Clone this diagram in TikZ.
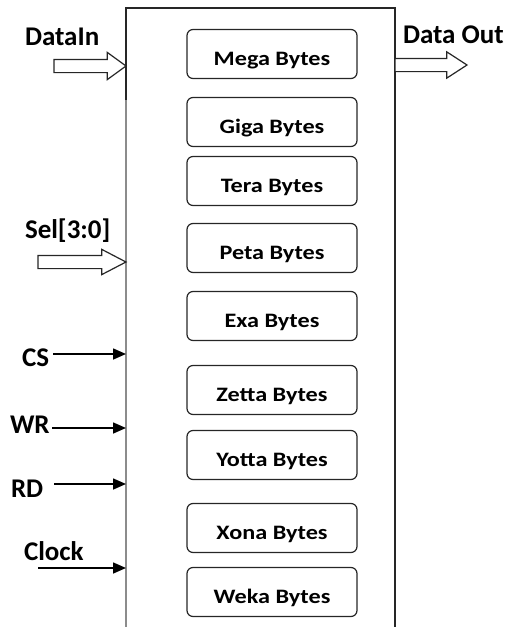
\documentclass[tikz,border=0pt]{standalone}
\usepackage{fontspec}
\setmainfont{Carlito}
\newfontfamily\boxfamily[FakeStretch=1.18]{Carlito}
\newcommand*{\sigfont}{\bfseries\fontsize{27}{31}\selectfont}
\newcommand*{\memfont}{\boxfamily\bfseries\fontsize{20.5}{24}\selectfont}
\definecolor{edge}{gray}{0.15}
\definecolor{sideline}{gray}{0.55}
\usetikzlibrary{arrows.meta}
\usetikzlibrary{shapes.arrows}
\usetikzlibrary{positioning}
\tikzstyle{base}=[x=1pt, y=-1pt, inner sep=0pt, outer sep=0pt]
\tikzstyle{mem}=[draw=edge, line width=1.2pt, rounded corners=6pt, minimum width=170pt, minimum height=49pt, text height=22pt, text depth=0pt, font=\memfont]
\tikzstyle{sig}=[anchor=base west, font=\sigfont]
\tikzstyle{bus}=[draw=edge, fill=white, line width=1.2pt, single arrow, inner xsep=0pt, inner ysep=6pt]
\tikzstyle{wire}=[line width=1.6pt, -{Triangle[length=13pt, width=11pt]}]

\begin{document}
\begin{tikzpicture}[base]
    \path [use as bounding box] (0,0) rectangle (512,627);
    % the memory block, open at the bottom
    \node [draw=edge, line width=1.2pt, minimum width=269pt, minimum height=700pt, anchor=north west] (blk) at (126,8) {};
    \draw [sideline, line width=1.4pt] (126,100) -- (126,640);
    % memory sizes
    \foreach \nm/\yy/\txt in {mega/54/Mega, giga/122/Giga, tera/181/Tera, peta/248/Peta, exa/316/Exa,
                              zetta/390/Zetta, yotta/455/Yotta, xona/528/Xona, weka/592/Weka}
        \node [mem] (\nm) at (272,\yy) {\txt\ Bytes};
    % signal names
    \node [sig] (lDin) at (25,45) {DataIn};
    \node [sig] (lDout) at (403,43) {Data Out};
    \node [sig] (lSel) at (25,238) {Sel[3:0]};
    \node [sig] (lCS) at (22,366) {CS};
    \node [sig] (lWR) at (10,433) {WR};
    \node [sig] (lRD) at (11,497) {RD};
    \node [sig] (lClk) at (24,560) {Clock};
    % buses
    \node [bus, anchor=tip, minimum height=72pt, minimum width=26pt, single arrow head extend=7pt, single arrow tip angle=72] (aDin) at (blk.west |- 0,66) {};
    \node [bus, anchor=tail, minimum height=72pt, minimum width=25pt, single arrow head extend=6.5pt, single arrow tip angle=66] (aDout) at (blk.east |- 0,65) {};
    \node [bus, anchor=tip, minimum height=88pt, minimum width=24pt, single arrow head extend=6pt, single arrow tip angle=55] (aSel) at (blk.west |- 0,262) {};
    % control lines
    \coordinate (tCS) at (53,354);
    \coordinate (tWR) at (52,428);
    \coordinate (tRD) at (54,484);
    \coordinate (tClk) at (38,568);
    \foreach \t in {tCS, tWR, tRD, tClk}
        \draw [wire] (\t) -- (blk.west |- \t);
\end{tikzpicture}
\end{document}
